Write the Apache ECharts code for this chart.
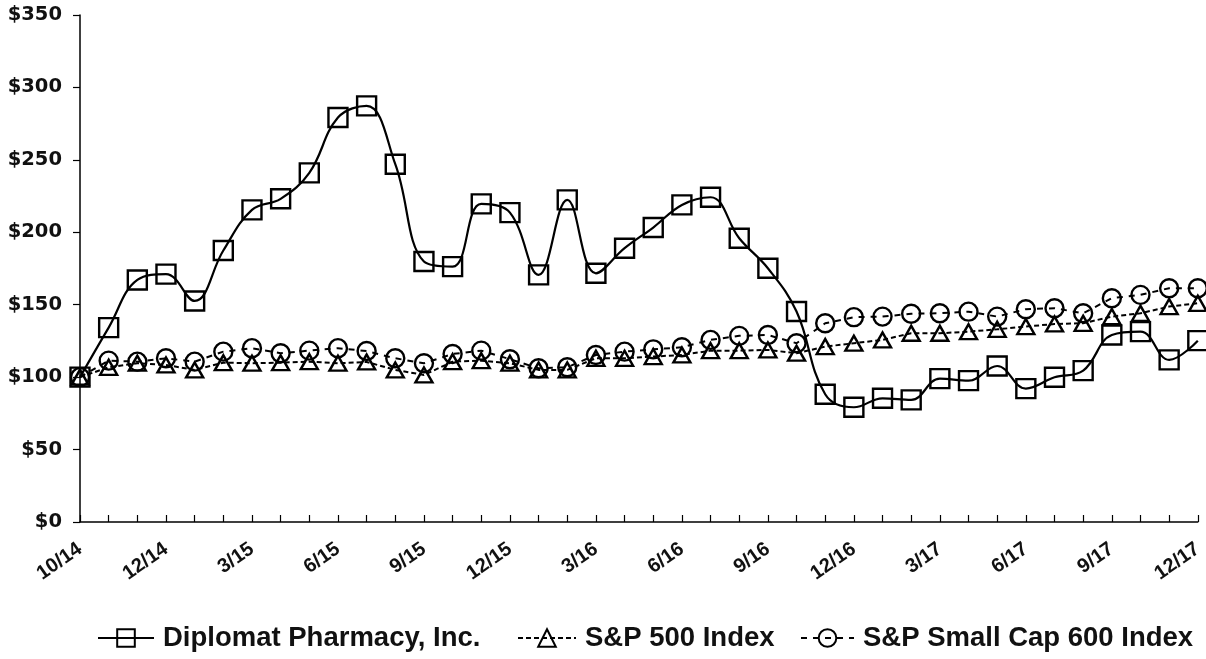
<!DOCTYPE html>
<html>
<head>
<meta charset="utf-8">
<script src="https://cdn.jsdelivr.net/npm/echarts@6/dist/echarts.min.js"></script>
<style>
html,body{margin:0;padding:0;background:#fff;}
#chart{width:1206px;height:659px;}
</style>
</head>
<body>
<div id="chart"></div>
<script>
var categories = ['IPO','Oct-14','Nov-14','Dec-14','Jan-15','Feb-15','Mar-15','Apr-15','May-15','Jun-15',
  'Jul-15','Aug-15','Sep-15','Oct-15','Nov-15','Dec-15','Jan-16','Feb-16','Mar-16','Apr-16',
  'May-16','Jun-16','Jul-16','Aug-16','Sep-16','Oct-16','Nov-16','Dec-16','Jan-17','Feb-17',
  'Mar-17','Apr-17','May-17','Jun-17','Jul-17','Aug-17','Sep-17','Oct-17','Nov-17','Dec-17'];
var tickLabels = ['10/14','12/14','3/15','6/15','9/15','12/15','3/16','6/16','9/16','12/16','3/17','6/17','9/17','12/17'];
var diplomat = [100, 134.2, 167.1, 171.1, 152.6, 187.4, 215.5, 223.1, 241, 279.2,
  287.3, 247, 179.8, 176.3, 219.6, 213.6, 170.6, 222.4, 171.7, 189,
  203.3, 218.9, 224.2, 195.9, 175.2, 145.3, 88.2, 79.2, 85.4, 84.3,
  99, 97.6, 107.7, 92.1, 99.9, 104.5, 129.1, 131.4, 111.9, 125.2];
var sp500 = [100, 106.8, 109.6, 108.4, 105, 110, 109.6, 110, 110.7, 109.6,
  110.5, 105, 101.5, 110.7, 111.4, 109.6, 105, 105, 113, 113,
  114.2, 115.3, 118.3, 118.3, 118.8, 116.5, 121.1, 123.4, 125.7, 130.3,
  130.3, 131.4, 133, 134.9, 136.7, 137.2, 141.8, 144.1, 148.7, 151];
var smallCap = [100, 111.4, 110.7, 113, 110.7, 117.6, 120, 116.5, 118.3, 120,
  118, 113, 109.6, 116, 118.3, 112.4, 106.1, 106.8, 115.3, 117.6,
  119.2, 120.6, 125.7, 128.5, 129.1, 123.4, 137.2, 141.4, 141.8, 143.8,
  144.1, 145.2, 141.8, 146.9, 147.6, 144.1, 154.5, 156.8, 161.4, 161.4];
var seriesNames = ['Diplomat Pharmacy, Inc.', 'S&P 500 Index', 'S&P Small Cap 600 Index'];

var chart = echarts.init(document.getElementById('chart'), null, {renderer: 'canvas'});
var legendText = {fontFamily: "'Liberation Sans', Arial, sans-serif", fontWeight: 'bold', fontSize: 27.5, color: '#111', padding: [0, 0, 0, 4]};
function legend(name, left, w) {
  return {data: [name], left: left, top: 624, itemWidth: w, itemHeight: 22, textStyle: legendText, padding: 0, selectedMode: false};
}
chart.setOption({
  animation: false,
  backgroundColor: '#fff',
  grid: {left: 80, right: 7, top: 15, bottom: 137, containLabel: false},
  legend: [legend(seriesNames[0], 97, 56), legend(seriesNames[1], 517, 58), legend(seriesNames[2], 800, 53)],
  xAxis: {
    type: 'category', data: categories, boundaryGap: false,
    axisLine: {lineStyle: {color: '#000', width: 1.5}},
    axisTick: {inside: true, length: 7, lineStyle: {color: '#000', width: 1.2}, interval: 0},
    axisLabel: {interval: 0, rotate: 35, margin: 25, color: '#111',
      fontFamily: "'Liberation Sans', Arial, sans-serif", fontWeight: 'bold', fontSize: 20,
      formatter: function (v, i) { return i % 3 === 0 ? tickLabels[i / 3] : ''; }},
    splitLine: {show: false}
  },
  yAxis: {
    type: 'value', min: 0, max: 350, interval: 50,
    axisLine: {show: true, lineStyle: {color: '#000', width: 1.5}},
    axisTick: {show: true, length: 7, lineStyle: {color: '#000', width: 1.2}},
    axisLabel: {margin: 18, color: '#111', fontFamily: "'DejaVu Sans', sans-serif", fontWeight: 'bold', fontSize: 19.5,
      formatter: function (v) { return '$' + v; }},
    splitLine: {show: false}
  },
  series: [
    {name: seriesNames[2], type: 'line', data: smallCap, symbol: 'circle', symbolSize: 18, z: 3,
     lineStyle: {color: '#000', width: 2, type: [6, 6]},
     itemStyle: {color: 'rgba(255,255,255,0)', borderColor: '#000', borderWidth: 2.4}},
    {name: seriesNames[1], type: 'line', data: sp500, symbol: 'triangle', symbolSize: [17, 15], z: 3,
     lineStyle: {color: '#000', width: 2, type: [5, 3]},
     itemStyle: {color: 'rgba(255,255,255,0)', borderColor: '#000', borderWidth: 2.4}},
    {name: seriesNames[0], type: 'line', data: diplomat, symbol: 'rect', symbolSize: 19, smooth: 0.4, z: 4,
     lineStyle: {color: '#000', width: 2.2},
     itemStyle: {color: 'rgba(255,255,255,0)', borderColor: '#000', borderWidth: 2.4}}
  ]
});
</script>
</body>
</html>
